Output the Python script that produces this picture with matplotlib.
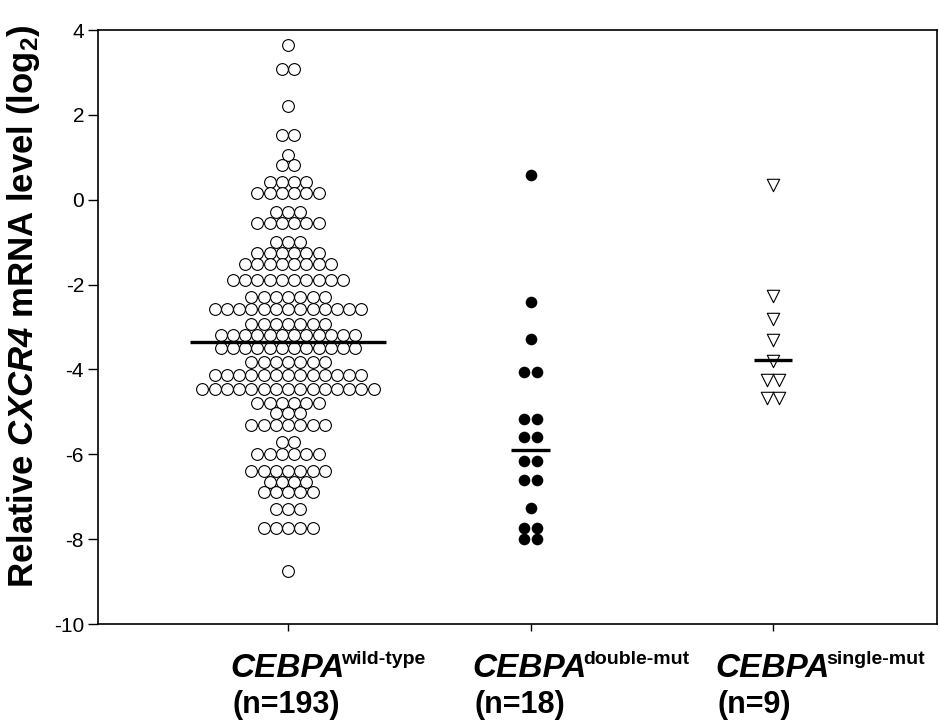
import numpy as np
import matplotlib
matplotlib.use("Agg")
import matplotlib.pyplot as plt

plt.rcParams['font.family'] = ['Liberation Sans', 'DejaVu Sans']
plt.rcParams['axes.unicode_minus'] = False
plt.rcParams['mathtext.fontset'] = 'custom'
plt.rcParams['mathtext.rm'] = 'Liberation Sans'
plt.rcParams['mathtext.it'] = 'Liberation Sans:italic'
plt.rcParams['mathtext.bf'] = 'Liberation Sans:bold'
plt.rcParams['mathtext.bfit'] = 'Liberation Sans:bold:italic'

# values: each row of the swarm = (level, count)
wt_levels = [3.65, 3.07, 2.20, 1.52, 1.05, 0.82, 0.42, 0.15, -0.28, -0.54,
             -0.99, -1.26, -1.52, -1.89, -2.30, -2.58, -2.93, -3.19, -3.50,
             -3.82, -4.13, -4.45, -4.78, -5.03, -5.31, -5.72, -6.00, -6.39,
             -6.65, -6.90, -7.30, -7.74, -8.75]
wt_counts = [1, 2, 1, 2, 1, 2, 4, 6, 3, 6,
             3, 6, 8, 10, 7, 13, 7, 12, 12,
             7, 13, 15, 6, 3, 7, 2, 6, 7,
             4, 5, 3, 5, 1]

dm_levels = [0.58, -2.40, -3.28, -4.07, -5.18, -5.59, -6.15, -6.61, -7.26, -7.73, -8.00]
dm_counts = [1, 1, 1, 2, 2, 2, 2, 2, 1, 2, 2]

sm_levels = [0.35, -2.27, -2.80, -3.31, -3.79, -4.25, -4.68]
sm_counts = [1, 1, 1, 1, 1, 2, 2]

group_mean = [-3.36, -5.90, -3.77]
group_names = ['wild-type', 'double-mut', 'single-mut']
group_n = ['(n=193)', '(n=18)', '(n=9)']
positions = [1, 2, 3]

fig = plt.figure(figsize=(9.39, 7.22), dpi=100)
ax = fig.add_axes([98 / 939, 1 - 624 / 722, 839 / 939, 594 / 722])

step = 0.0505  # horizontal spacing of touching markers (data units)


def swarm(pos, levels, counts, sp):
    xs, ys = [], []
    for lv, c in zip(levels, counts):
        off = (np.arange(c) - (c - 1) / 2) * sp
        xs.extend(pos + off)
        ys.extend([lv] * c)
    return np.array(xs), np.array(ys)


x, y = swarm(positions[0], wt_levels, wt_counts, step)
ax.scatter(x, y, s=72, facecolor='white', edgecolor='black', linewidth=0.8, zorder=3)

x, y = swarm(positions[1], dm_levels, dm_counts, 0.052)
ax.scatter(x, y, s=70, color='black', linewidth=0, zorder=3)

x, y = swarm(positions[2], sm_levels, sm_counts, 0.05)
ax.scatter(x, y, s=80, marker='v', facecolor='white', edgecolor='black', linewidth=0.8, zorder=3)

half = [0.404, 0.082, 0.08]
for p, m, h in zip(positions, group_mean, half):
    ax.plot([p - h, p + h], [m, m], color='black', linewidth=2.4, zorder=4,
            solid_capstyle='butt')

ax.set_xlim(0.2165, 3.676)
ax.set_ylim(-10, 4)
ax.set_yticks(np.arange(-10, 5, 2))
ax.set_xticks(positions)
ax.set_xticklabels([])
ax.tick_params(axis='y', direction='out', length=7, width=1, labelsize=15, pad=3)
ax.tick_params(axis='x', direction='out', length=5, width=1)
for s in ax.spines.values():
    s.set_linewidth(1.2)

ax.set_ylabel(r'Relative $\mathbfit{CXCR4}$ mRNA level (log$_\mathbf{2}$)',
              fontsize=25, fontweight='bold')
ax.yaxis.set_label_coords(-0.067, 0.535)

for p, name, n in zip(positions, group_names, group_n):
    ax.annotate('CEBPA', xy=(p, 0), xycoords=('data', 'axes fraction'),
                xytext=(-58, -53), textcoords='offset pixels',
                fontsize=24, fontweight='bold', fontstyle='italic',
                ha='left', va='baseline')
    ax.annotate(name, xy=(p, 0), xycoords=('data', 'axes fraction'),
                xytext=(53, -40), textcoords='offset pixels',
                fontsize=14, fontweight='bold', ha='left', va='baseline')
    ax.annotate(n, xy=(p, 0), xycoords=('data', 'axes fraction'),
                xytext=(-56, -89), textcoords='offset pixels',
                fontsize=22, fontweight='bold', ha='left', va='baseline')

fig.savefig('out.png', dpi=100)
